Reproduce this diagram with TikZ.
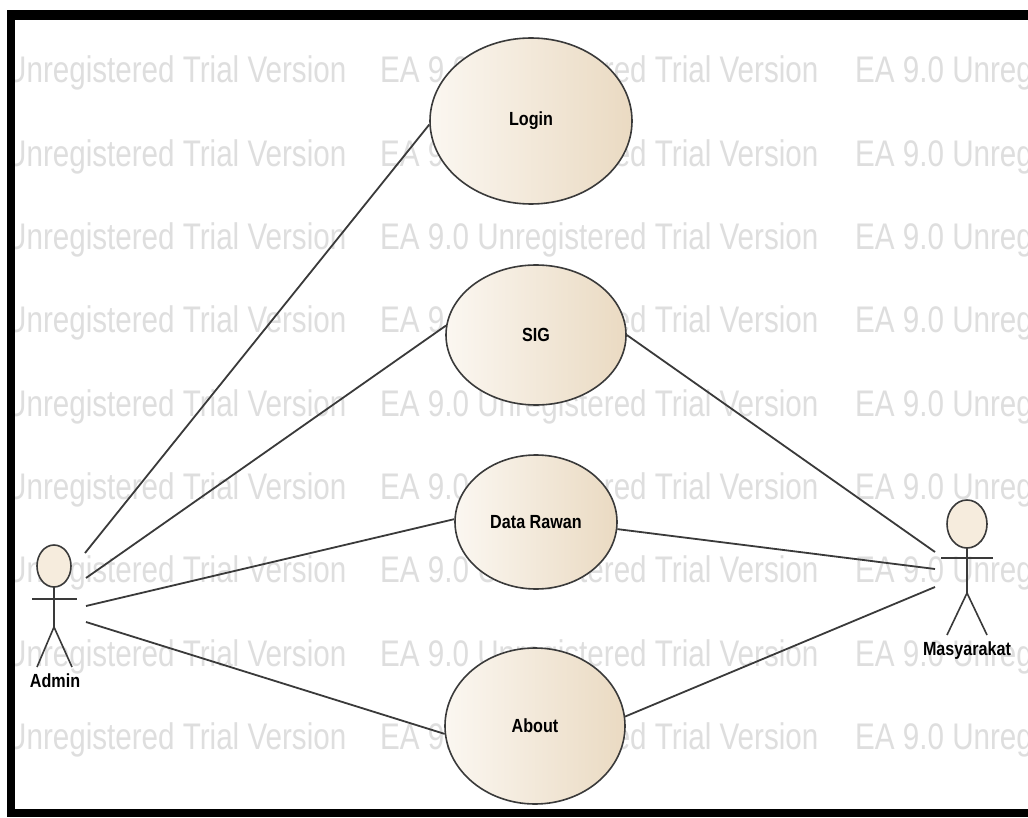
\documentclass[tikz,border=0pt]{standalone}
\usepackage{fontspec}
\setmainfont{Liberation Sans}
\usetikzlibrary{shapes.geometric}

\definecolor{ucleft}{HTML}{FBF7F1}
\definecolor{ucright}{HTML}{EADAC2}
\definecolor{headfill}{HTML}{F6ECDD}
\definecolor{edgegray}{HTML}{3A3A3A}
\definecolor{wmgray}{HTML}{DEDEDE}

% horizontally condensed text
\newcommand{\narrowtxt}[1]{\scalebox{0.85}[1]{#1}}
\newcommand{\wmtxt}[1]{\scalebox{0.8}[1]{#1}}

\tikzset{
  usecase/.style={ellipse, draw=edgegray, line width=1.6pt,
    left color=ucleft, right color=ucright, inner sep=0pt,
    font=\fontsize{19}{19}\selectfont\bfseries},
  assoc/.style={draw=edgegray, line width=1.8pt},
  stick/.style={draw=edgegray, line width=1.6pt},
  actorlabel/.style={inner sep=0pt, font=\fontsize{19}{19}\selectfont\bfseries},
  wmark/.style={anchor=base west, inner sep=0pt, text=wmgray,
    font=\fontsize{37}{37}\selectfont},
  framebar/.style={fill=black, draw=none}
}

\begin{document}
\begin{tikzpicture}[x=1pt, y=-1pt]
  % canvas
  \fill[white] (0,0) rectangle (1028,818);
  \useasboundingbox (0,0) rectangle (1028,818);

  % background watermark rows
  \begin{scope}
    \clip (15,20) rectangle (1028,809);
    \foreach \k in {0,...,8} {
      \node[wmark] (wmA\k) at (5,{83+83.3*\k}) {\wmtxt{Unregistered Trial Version}};
      \node[wmark] (wmB\k) at (380,{83+83.3*\k}) {\wmtxt{EA 9.0 Unregistered Trial Version}};
      \node[wmark] (wmC\k) at (855,{83+83.3*\k}) {\wmtxt{EA 9.0 Unregistered Trial Version}};
    }
  \end{scope}

  % use cases
  \node[usecase, minimum width=202, minimum height=166] (login) at (531,121) {\narrowtxt{Login}};
  \node[usecase, minimum width=180, minimum height=140] (sig)   at (536,335) {\narrowtxt{SIG}};
  \node[usecase, minimum width=162, minimum height=134] (rawan) at (536,522) {\narrowtxt{Data Rawan}};
  \node[usecase, minimum width=180, minimum height=156] (about) at (535,726) {\narrowtxt{About}};

  % actor: Admin
  \node[inner sep=0pt, minimum width=46, minimum height=122] (admin) at (54,606) {};
  \draw[stick, fill=headfill] (54,566) ellipse [x radius=17, y radius=21];
  \draw[stick] (32,599) -- (77,599);
  \draw[stick] (54,587) -- (54,627);
  \draw[stick] (37,667) -- (54,627) -- (72,667);
  \node[actorlabel] (adminlbl) at (55,681) {\narrowtxt{Admin}};

  % actor: Masyarakat
  \node[inner sep=0pt, minimum width=52, minimum height=135] (masy) at (967,567) {};
  \draw[stick, fill=headfill] (967,524) ellipse [x radius=20, y radius=24];
  \draw[stick] (941,558) -- (993,558);
  \draw[stick] (967,548) -- (967,593);
  \draw[stick] (947,635) -- (967,593) -- (987,635);
  \node[actorlabel] (masylbl) at (967,651) {\narrowtxt{Masyarakat}};

  % connector ends at the actors
  \coordinate (ad1) at (85,553);
  \coordinate (ad2) at (86,578);
  \coordinate (ad3) at (86,606);
  \coordinate (ad4) at (86,622);
  \coordinate (ms1) at (935,552);
  \coordinate (ms2) at (935,569);
  \coordinate (ms3) at (935,587);

  % associations
  \draw[assoc] (ad1) -- (login.182);
  \draw[assoc] (ad2) -- (sig.174);
  \draw[assoc] (ad3) -- (rawan.178);
  \draw[assoc] (ad4) -- (about.185);
  \draw[assoc] (sig.0) -- (ms1);
  \draw[assoc] (rawan.-5) -- (ms2);
  \draw[assoc] (about.6) -- (ms3);

  % outer frame
  \fill[framebar] (7,10) rectangle (15,817);
  \fill[framebar] (7,10) rectangle (1028,20);
  \fill[framebar] (7,809) rectangle (1028,817);
\end{tikzpicture}
\end{document}
